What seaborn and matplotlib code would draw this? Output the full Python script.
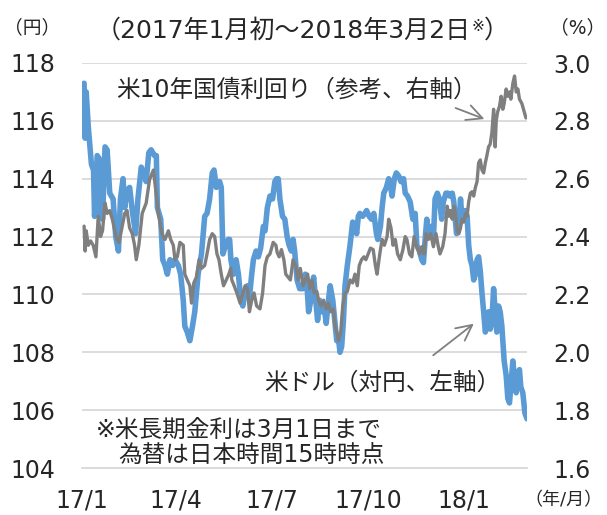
import pandas as pd
import matplotlib.pyplot as plt
import seaborn as sns

# USD/JPY (left axis), day offsets from 2017-01-01
usd_days = [2, 3, 4, 6, 9, 11, 12, 14.5, 16.4, 17.7, 19.6, 22, 24, 26.5, 29.7, 32.2, 34.8, 36.7, 39.2, 40.8,
            43, 45.5, 48, 51.2, 53.4, 56.6, 58.8, 61.3, 63.8, 66, 69.2,
            71, 72, 75.2, 77.1, 79.3, 81.5, 84, 86.6, 88.8, 92, 94.2, 96.7, 98.2, 100.5, 103, 105.5, 107.7,
            110.9, 114.1, 117.2, 119.4, 121.9, 124.4, 126.1, 128.3, 131.5, 133, 134.6, 137.1, 139.6,
            141, 142.2, 144.7, 147.2, 149.4, 151.6, 153.6, 155.8, 158, 159.9, 162.1, 163.7, 166.2, 168.4,
            170.6, 173.2, 174.8, 177, 179.5, 182, 184.2, 185.8, 187.4, 189, 191.5, 193.7, 195.9, 197.8, 200,
            201.6, 203.1, 205.4, 207.9,
            211.1, 213.3, 214.9, 216.4, 218.6, 221.2, 222.7, 225, 226.9, 229.1, 231.3, 233.2, 235.4, 237,
            239.5, 241.7, 243.3, 244.9, 246.4, 248, 249.7, 251.2, 253.4, 256, 258.5, 260.7, 262.3, 263.9,
            265.4, 268, 270.1, 271.8, 274.3, 276.5,
            278.7, 281.2, 282.5, 285, 286.6, 288.2, 290.7, 292.9, 294.5, 296.1, 298.3, 300.2, 302.4, 304.6,
            307.1, 308.7, 310.9, 313.4, 316, 318.2, 319.8, 322.3, 324.5, 326.1, 327.7, 329.3, 330.8, 333,
            335.6, 337.2, 339.4, 341.3, 343.5, 345.1, 347.6,
            349.5, 351.3, 353.6, 355.1, 357.7, 359.9, 361.5, 363, 364.6, 366.2, 367.8, 369.3, 370.9, 372.5,
            374.1, 375.7, 377.3, 378.8, 380.4, 382, 383.6, 385.2, 386.7, 388.3, 389.9, 391.5, 393.1, 394.6,
            396.2, 397.8, 399.4, 401, 403.2, 405.1, 406.7, 408.3, 409.9, 411.5, 413.1, 414.7, 416.3, 417.8,
            419.1, 421, 423, 425]
usd_jpy = [117.3, 115.4, 117.0, 115.8, 114.5, 114.3, 112.7, 114.8, 114.7, 112.7, 112.6, 115.1, 115.0, 113.5,
           113.3, 112.0, 111.5, 113.3, 114.0, 113.0, 113.6, 113.7, 112.9, 112.1, 113.3, 114.4, 114.2, 113.9,
           114.9, 115.0, 114.8,
           114.8, 113.0, 112.6, 111.2, 111.0, 110.7, 111.2, 111.0, 111.2, 111.0, 110.7, 109.8, 108.9, 108.7,
           108.4, 108.9, 109.4, 110.7, 111.4, 112.7, 112.8, 113.3, 114.2, 114.3, 113.7, 113.9, 113.7, 111.4,
           111.7, 111.9,
           111.9, 111.2, 110.7, 111.2, 110.7, 109.8, 109.6, 110.05, 110.3, 109.9, 110.7, 111.2, 111.5, 111.3,
           111.6, 112.35, 112.2, 113.0, 113.4, 113.3, 113.9, 114.0, 114.0, 113.3, 112.7, 112.6, 112.0, 111.7,
           111.5, 111.9, 111.5, 110.5, 110.2,
           110.2, 110.7, 110.3, 109.4, 109.8, 110.6, 110.0, 109.1, 109.8, 109.4, 109.6, 109.0, 109.8, 110.3,
           109.8, 109.0, 108.4, 108.5, 108.0, 108.2, 109.1, 110.3, 111.0, 111.7, 112.5, 112.4, 112.1, 112.7,
           112.8, 112.7, 112.8, 112.9, 112.7, 112.6,
           112.8, 112.1, 111.9, 112.35, 113.0, 113.5, 113.7, 114.0, 113.8, 113.4, 114.0, 114.2, 114.1, 113.9,
           114.0, 113.5, 113.4, 113.2, 112.6, 112.8, 111.7, 111.5, 111.2, 111.1, 111.9, 112.6, 112.0, 112.35,
           111.9, 113.3, 113.5, 113.3, 112.6, 113.2, 113.5,
           113.5, 113.4, 113.5, 113.2, 112.1, 112.35, 113.3, 112.6, 112.8, 112.9, 112.7, 111.7, 111.2, 111.0,
           110.5, 110.7, 111.2, 111.3, 110.8, 110.05, 109.4, 108.7, 108.9, 109.4, 108.8, 109.1, 110.2, 109.4,
           108.7, 109.6, 109.4, 108.9, 107.7, 107.2, 106.4, 106.25, 107.0, 107.7, 107.0, 106.6, 107.3, 107.4,
           106.8, 106.6, 105.9, 105.7]

# US 10-year Treasury yield (right axis), day offsets from 2017-01-01
yld_days = [2, 3, 4, 6, 8.2, 10.7, 13.3, 15.5, 17.7, 19.6, 22, 24, 26.5, 29.1, 31.3, 33.5, 35.4, 37.6, 40.8,
            43, 45.5, 48, 50.2, 51.8, 54.3, 57.5, 61.3, 64.5, 68.2,
            70.8, 73, 76.1, 79.3, 82.5, 84.7, 87.2, 88.8, 91, 93.5, 96.7, 98.2, 100.5, 103, 104.6, 106.8,
            109.3, 111.8, 114.1, 117.2, 119.4, 121.9, 124.4, 126.7, 128.9, 130.8, 133, 135.2, 137.8, 140.3,
            142, 143.1, 145.3, 147.9, 151, 153.6, 155.8, 158, 159.9, 162.1, 164.3, 166.8, 170, 172.5, 174.8,
            177, 179.5, 182.6, 185.2, 186.4, 188.3, 190.5, 192.8, 194.6, 196.8, 199, 201.6, 204.1, 206.3,
            208.5, 211.1, 213.3, 215.5, 217.4, 219.6, 221.8, 224.3, 225.9, 228.1, 230.7, 233.2, 235.4, 237.6,
            240.1, 241.7, 243.3, 244.9, 247.1, 249, 251.2, 253.4, 256, 258.5, 260.7, 262.9, 264.8, 267,
            269.2, 271.1, 273.3, 275.5, 278.1,
            280.2, 281.8, 284.4, 286.6, 288.8, 291.4, 292.9, 295.1, 297, 299.2, 301.4, 304, 306.5, 308.7,
            310.3, 312.8, 315, 317.2, 319.8, 322.3, 324.5, 326.7, 328.6, 330.8, 333, 335.6, 338.1, 340.3,
            341.9, 344.5, 346.7,
            348.8, 350.4, 351.9, 353.6, 355.1, 356.7, 358.3, 359.9, 361.5, 363, 364.6, 366.2, 367.8, 369.3,
            370.9, 372.5, 374.1, 375.7, 377.3, 378.8, 380.4, 382, 383.6, 385.2, 386.7, 388.3, 389.9, 391.5,
            393.1, 394.6, 395.6, 396.9, 398.7, 400.3, 401.9, 403.2, 405.1, 406.7, 408.3, 409.6, 411.5, 413.1,
            414.7, 416.3, 417.8, 420.1, 424]
us10y = [2.436, 2.35, 2.42, 2.37, 2.385, 2.37, 2.33, 2.47, 2.40, 2.42, 2.516, 2.48, 2.49, 2.458, 2.42, 2.39,
         2.38, 2.42, 2.48, 2.49, 2.43, 2.41, 2.37, 2.32, 2.37, 2.48, 2.516, 2.597, 2.63,
         2.55, 2.48, 2.41, 2.39, 2.42, 2.39, 2.37, 2.32, 2.33, 2.38, 2.37, 2.27, 2.25, 2.23, 2.17, 2.24,
         2.26, 2.32, 2.29, 2.30, 2.34, 2.39, 2.41, 2.40, 2.34, 2.32, 2.27, 2.23, 2.25, 2.27,
         2.29, 2.25, 2.23, 2.205, 2.17, 2.205, 2.23, 2.22, 2.14, 2.18, 2.205, 2.16, 2.15, 2.205, 2.30,
         2.33, 2.34, 2.38, 2.37, 2.345, 2.33, 2.355, 2.32, 2.27, 2.26, 2.25, 2.32, 2.30, 2.25,
         2.29, 2.23, 2.25, 2.27, 2.22, 2.25, 2.205, 2.21, 2.18, 2.16, 2.18, 2.15, 2.17, 2.14,
         2.15, 2.09, 2.07, 2.04, 2.07, 2.16, 2.205, 2.21, 2.25, 2.24, 2.27, 2.23, 2.30, 2.32,
         2.33, 2.32, 2.34, 2.36, 2.355,
         2.30, 2.27, 2.34, 2.39, 2.37, 2.40, 2.46, 2.43, 2.37, 2.39, 2.34, 2.32, 2.355, 2.40,
         2.39, 2.34, 2.33, 2.40, 2.365, 2.34, 2.365, 2.34, 2.41, 2.39, 2.41, 2.365, 2.41, 2.365,
         2.34, 2.365, 2.41,
         2.505, 2.47, 2.49, 2.46, 2.505, 2.48, 2.42, 2.41, 2.43, 2.46, 2.45, 2.48, 2.47, 2.52,
         2.55, 2.555, 2.54, 2.57, 2.59, 2.655, 2.665, 2.63, 2.62, 2.655, 2.68, 2.71, 2.72, 2.76,
         2.84, 2.71, 2.80, 2.83, 2.85, 2.885, 2.84, 2.86, 2.91, 2.885, 2.90, 2.875, 2.93, 2.955,
         2.90, 2.91, 2.875, 2.86, 2.81]

tick_dates = ["2017-01-01", "2017-04-01", "2017-07-01", "2017-10-01", "2018-01-01", "2018-03-02"]
tick_labels = ["17/1", "17/4", "17/7", "17/10", "18/1", ""]
left_ticks = [104, 106, 108, 110, 112, 114, 116, 118]
right_ticks = [1.6, 1.8, 2.0, 2.2, 2.4, 2.6, 2.8, 3.0]

start = pd.Timestamp("2017-01-01")
usd = pd.DataFrame({"date": start + pd.to_timedelta(usd_days, unit="D"), "rate": usd_jpy})
yld = pd.DataFrame({"date": start + pd.to_timedelta(yld_days, unit="D"), "yield": us10y})

sns.set_style("white")
plt.rcParams["font.family"] = ["DejaVu Sans", "Noto Sans CJK JP"]

W, H = 607, 515
fig = plt.figure(figsize=(W / 100, H / 100), dpi=100)
ax = fig.add_axes([82 / W, 47 / H, 445 / W, 405 / H])

sns.lineplot(data=usd, x="date", y="rate", ax=ax, color="#5b9bd5", linewidth=4.0)
ax2 = ax.twinx()
sns.lineplot(data=yld, x="date", y="yield", ax=ax2, color="#7f7f7f", linewidth=2.4)

ax.set_xlim(pd.Timestamp(tick_dates[0]), pd.Timestamp(tick_dates[-1]))
ax.set_ylim(104, 118)
ax2.set_ylim(1.6, 3.0)
ax.set_yticks(left_ticks)
ax.set_yticklabels([str(t) for t in left_ticks])
ax2.set_yticks(right_ticks)
ax2.set_yticklabels([f"{t:.1f}" for t in right_ticks])
ax.set_xticks(pd.to_datetime(tick_dates))
ax.set_xticklabels(tick_labels)

ax.yaxis.grid(True, color="#d9d9d9", linewidth=1.3)
ax.set_axisbelow(True)
for a in (ax, ax2):
    for s in ["top", "left", "right"]:
        a.spines[s].set_visible(False)
    a.set_xlabel("")
    a.set_ylabel("")
ax2.spines["bottom"].set_visible(False)
ax.spines["bottom"].set_color("#d9d9d9")
ax.spines["bottom"].set_linewidth(1.3)

ax.tick_params(axis="y", length=0, pad=19, labelsize=17)
ax2.tick_params(axis="y", length=0, pad=19, labelsize=17)
ax.tick_params(axis="x", length=6, width=1.3, color="#d9d9d9", pad=9, labelsize=17)

def fx(px):
    return px / W

def fy(py):
    return 1 - py / H

# period note with a small raised reference mark
t1 = fig.text(fx(96), fy(31), "（2017年1月初～2018年3月2日", ha="left", va="center", fontsize=18)
t2 = ax.annotate("※", xy=(1.0, 1.0), xycoords=t1, ha="left", va="top", fontsize=11,
                 annotation_clip=False)
ax.annotate("）", xy=(1.0, 0.5), xycoords=(t2, t1), ha="left", va="center", fontsize=18,
            annotation_clip=False)

fig.text(fx(32), fy(28), "（円）", ha="center", va="center", fontsize=13.5)
fig.text(fx(578), fy(28), "（%）", ha="center", va="center", fontsize=13.5)
fig.text(fx(603), fy(500), "（年/月）", ha="right", va="center", fontsize=13)

fig.text(fx(116), fy(90), "米10年国債利回り（参考、右軸）", ha="left", va="center", fontsize=17)
fig.text(fx(500), fy(383), "米ドル（対円、左軸）", ha="right", va="center", fontsize=17)
fig.text(fx(96), fy(430), "※米長期金利は3月1日まで", ha="left", va="center", fontsize=17)
fig.text(fx(118), fy(455), "為替は日本時間15時時点", ha="left", va="center", fontsize=17)

arrow = dict(arrowstyle="->", color="#7f7f7f", lw=1.3, mutation_scale=28)
ax.annotate("", xy=(fx(487), fy(120)), xytext=(fx(453), fy(107)),
            xycoords="figure fraction", textcoords="figure fraction", arrowprops=arrow)
ax.annotate("", xy=(fx(476), fy(322)), xytext=(fx(431), fy(357)),
            xycoords="figure fraction", textcoords="figure fraction", arrowprops=arrow)

fig.savefig("out.png", dpi=100)
